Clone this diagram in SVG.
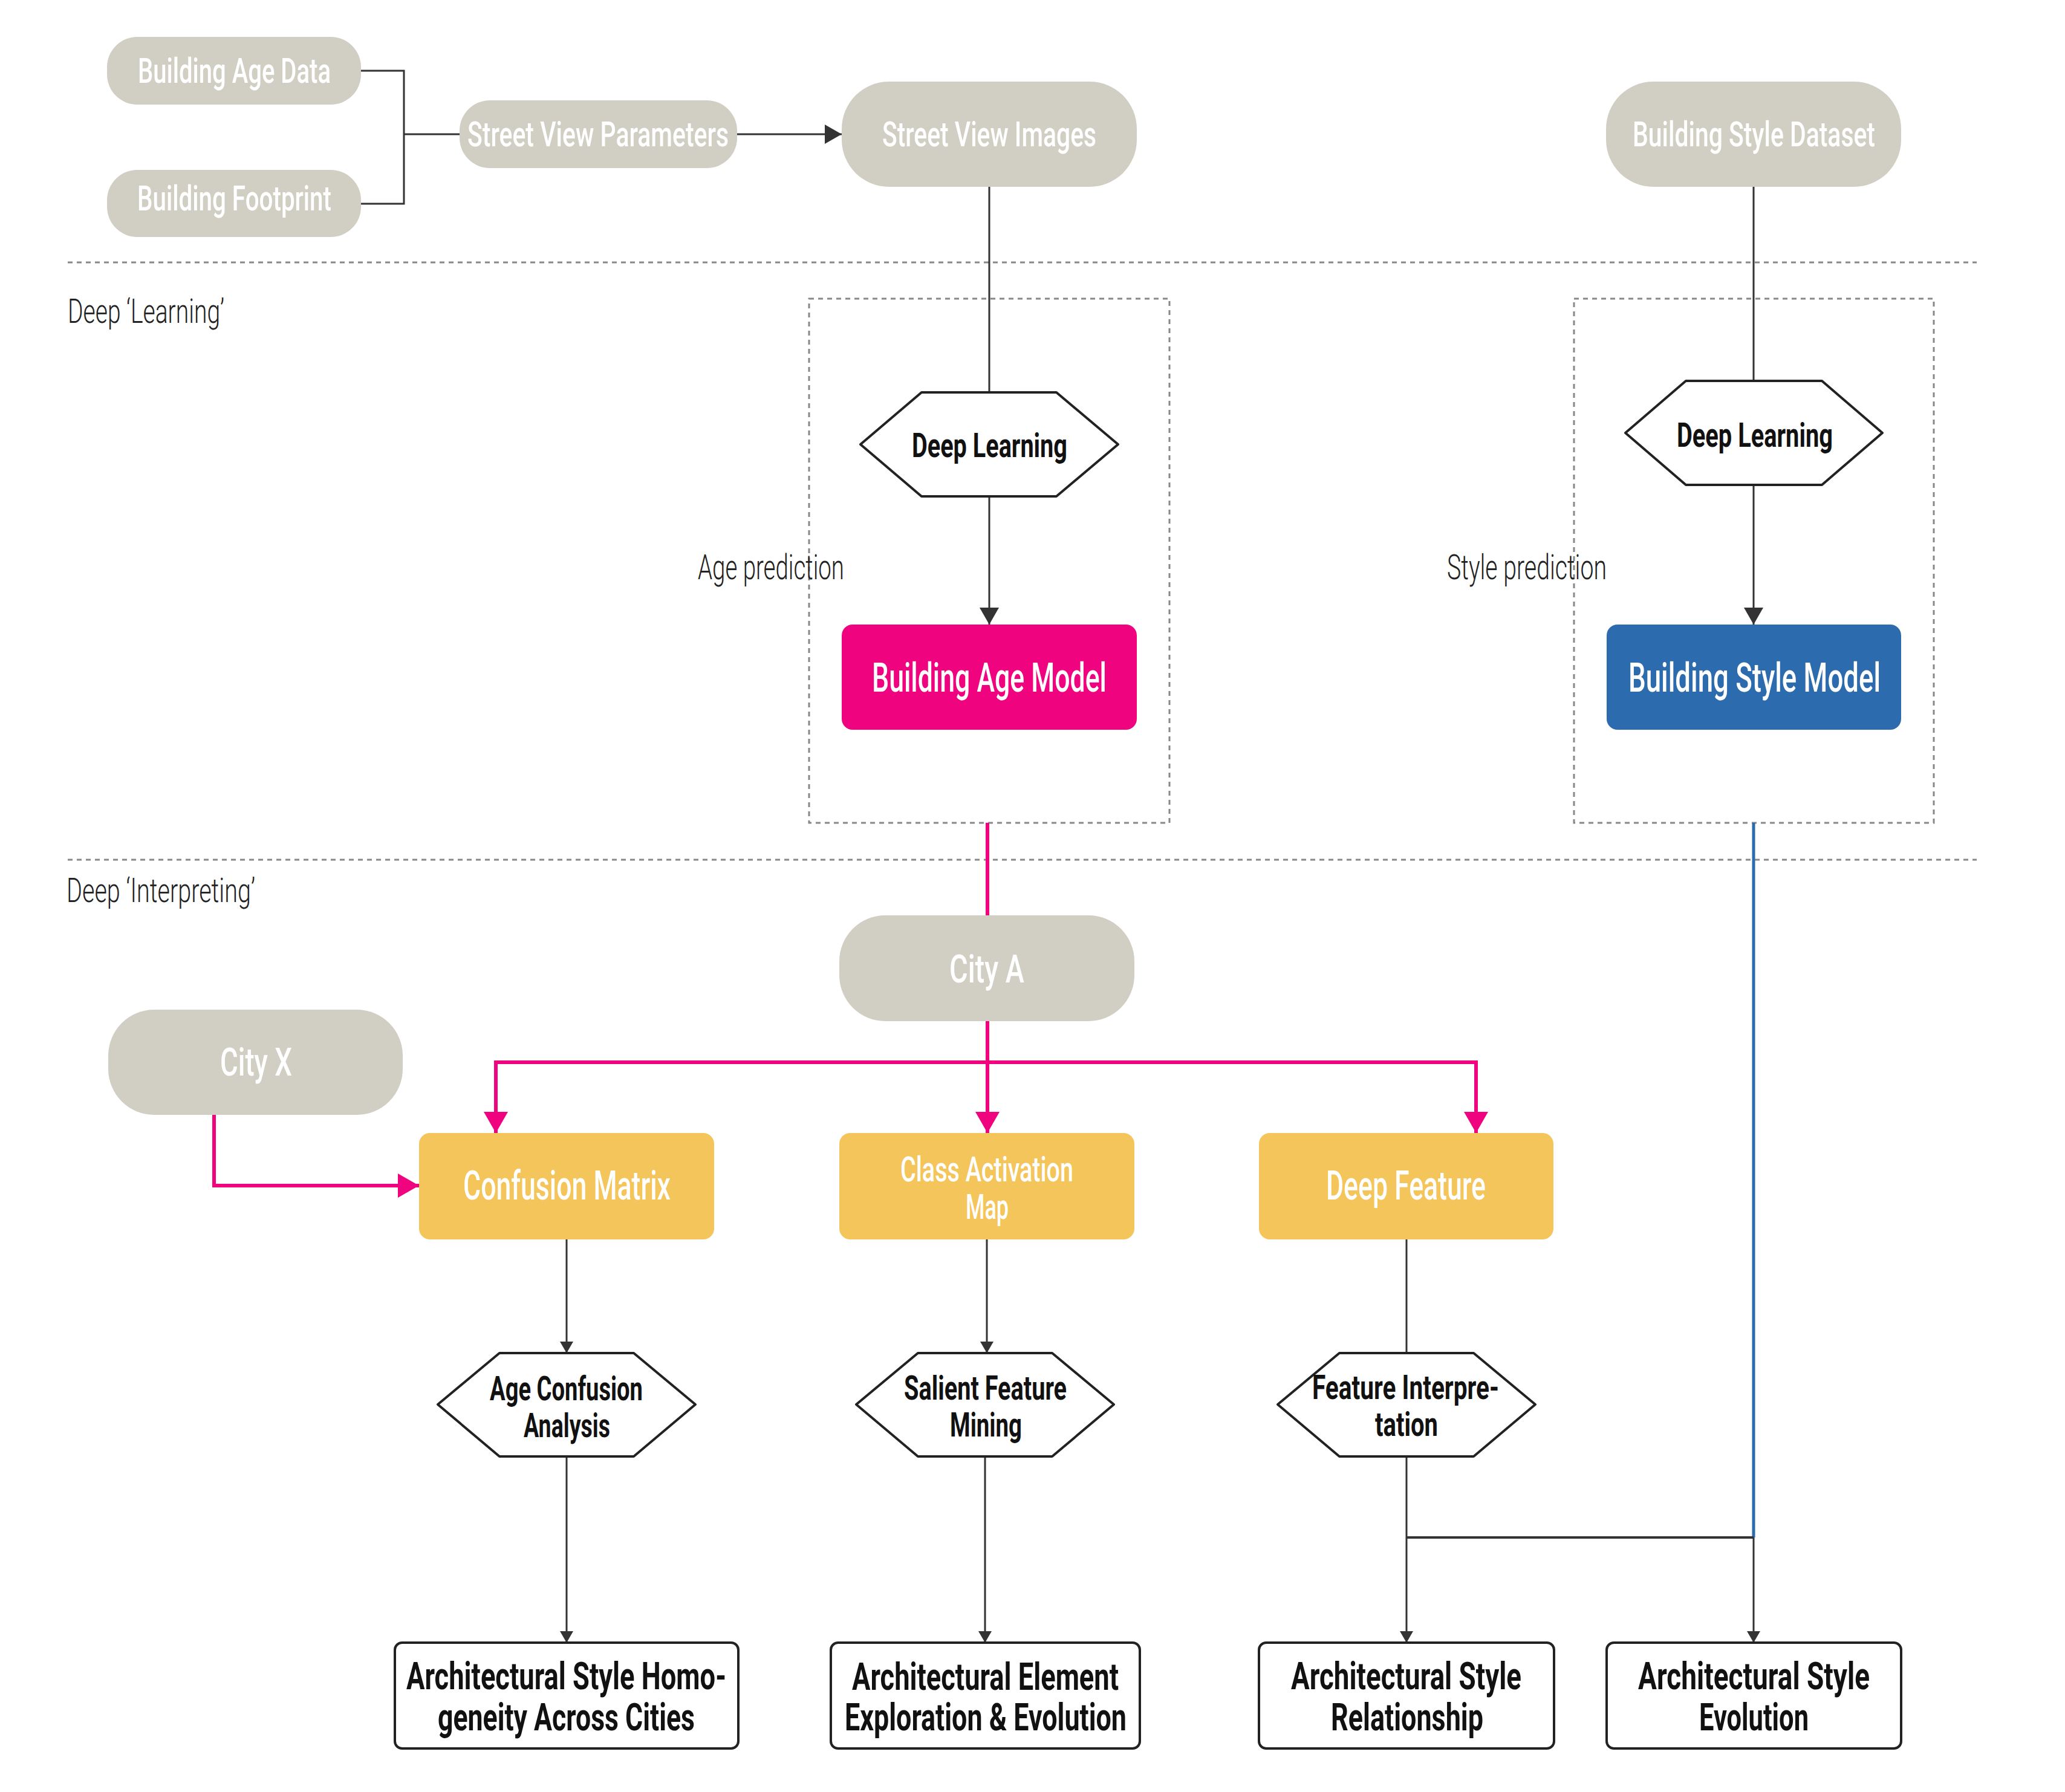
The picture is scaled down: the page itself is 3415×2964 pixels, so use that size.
<svg xmlns="http://www.w3.org/2000/svg" width="3415" height="2964" viewBox="0 0 3415 2964">
<style>
text{font-family:Roboto,"Liberation Sans",sans-serif}
.w{fill:#ffffff;font-weight:500}
.b{fill:#111111;font-weight:700}
.l{fill:#222222;font-weight:300}
.pill{fill:#D1CFC3}
.hex{fill:#ffffff;stroke:#222222;stroke-width:4;stroke-linejoin:round}
.out{fill:#ffffff;stroke:#222222;stroke-width:4}
.sep{fill:none;stroke:#888888;stroke-width:3;stroke-dasharray:8 7}
.c{fill:none;stroke:#333333;stroke-width:3}
.pk{fill:none;stroke:#EF037F;stroke-width:6}
.bl{fill:none;stroke:#2C6BAD;stroke-width:5}
</style>
<defs>
<marker id="aL" markerUnits="userSpaceOnUse" markerWidth="28" markerHeight="32" viewBox="0 0 28 32" refX="28" refY="16" orient="auto"><path d="M0,0 L28,16 L0,32 z" fill="#333333"/></marker>
<marker id="aS" markerUnits="userSpaceOnUse" markerWidth="19" markerHeight="22" viewBox="0 0 19 22" refX="19" refY="11" orient="auto"><path d="M0,0 L19,11 L0,22 z" fill="#333333"/></marker>
<marker id="aP" markerUnits="userSpaceOnUse" markerWidth="35" markerHeight="40" viewBox="0 0 35 40" refX="35" refY="20" orient="auto"><path d="M0,0 L35,20 L0,40 z" fill="#EF037F"/></marker>
</defs>
<rect width="3415" height="2964" fill="#ffffff"/>

<g id="sections">
<line class="sep" x1="112" y1="434" x2="3269" y2="434"/>
<line class="sep" x1="112" y1="1422" x2="3269" y2="1422"/>
<rect class="sep" x="1338" y="494" width="596" height="867"/>
<rect class="sep" x="2603" y="494" width="595" height="867"/>
<text class="l" x="112" y="534" font-size="56" textLength="259" lengthAdjust="spacingAndGlyphs">Deep ‘Learning’</text>
<text class="l" x="110" y="1492" font-size="56" textLength="312" lengthAdjust="spacingAndGlyphs">Deep ‘Interpreting’</text>
<text class="l" x="1154" y="958" font-size="58" textLength="242" lengthAdjust="spacingAndGlyphs">Age prediction</text>
<text class="l" x="2393" y="958" font-size="58" textLength="264" lengthAdjust="spacingAndGlyphs">Style prediction</text>
</g>

<g id="connectors">
<path class="c" d="M597,117 H668 V337 H597"/>
<path class="c" d="M668,222 H760"/>
<path class="c" d="M1219,222 H1392" marker-end="url(#aL)"/>
<path class="c" d="M1636,309 V649"/>
<path class="c" d="M1636,821 V1033" marker-end="url(#aL)"/>
<path class="c" d="M2900,309 V630"/>
<path class="c" d="M2900,802 V1033" marker-end="url(#aL)"/>
<path class="pk" d="M1633,1361 V1514"/>
<path class="pk" d="M1633,1689 V1874" marker-end="url(#aP)"/>
<path class="pk" d="M1633,1757 H820 V1874" marker-end="url(#aP)"/>
<path class="pk" d="M1633,1757 H2441 V1874" marker-end="url(#aP)"/>
<path class="pk" d="M354,1844 V1961 H693" marker-end="url(#aP)"/>
<path class="bl" d="M2900,1361 V2543"/>
<path class="c" d="M937,2050 V2238" marker-end="url(#aS)"/>
<path class="c" d="M1632,2050 V2238" marker-end="url(#aS)"/>
<path class="c" d="M2326,2050 V2238"/>
<path class="c" d="M937,2409 V2717" marker-end="url(#aS)"/>
<path class="c" d="M1629,2409 V2717" marker-end="url(#aS)"/>
<path class="c" d="M2326,2409 V2717" marker-end="url(#aS)"/>
<path class="c" style="stroke-width:4" d="M2326,2543 H2900"/>
<path class="c" d="M2900,2543 V2717" marker-end="url(#aS)"/>
</g>

<g id="building-age-data">
<rect class="pill" x="177" y="61" width="420" height="112" rx="50" ry="50"/>
<text class="w" x="228" y="137" font-size="58" textLength="319" lengthAdjust="spacingAndGlyphs">Building Age Data</text>
</g>
<g id="building-footprint">
<rect class="pill" x="177" y="281" width="420" height="111" rx="50" ry="50"/>
<text class="w" x="227" y="348" font-size="58" textLength="321" lengthAdjust="spacingAndGlyphs">Building Footprint</text>
</g>
<g id="street-view-parameters">
<rect class="pill" x="760" y="166" width="459" height="112" rx="50" ry="50"/>
<text class="w" x="773" y="242" font-size="57" textLength="432" lengthAdjust="spacingAndGlyphs">Street View Parameters</text>
</g>
<g id="street-view-images">
<rect class="pill" x="1392" y="135" width="488" height="174" rx="78" ry="78"/>
<text class="w" x="1459" y="242" font-size="57" textLength="354" lengthAdjust="spacingAndGlyphs">Street View Images</text>
</g>
<g id="building-style-dataset">
<rect class="pill" x="2656" y="135" width="488" height="174" rx="78" ry="78"/>
<text class="w" x="2700" y="242" font-size="57" textLength="401" lengthAdjust="spacingAndGlyphs">Building Style Dataset</text>
</g>

<g id="deep-learning-age">
<polygon class="hex" points="1423,735 1524,649 1747,649 1849,735 1747,821 1524,821"/>
<text class="b" x="1508" y="756" font-size="56" textLength="257" lengthAdjust="spacingAndGlyphs">Deep Learning</text>
</g>
<g id="deep-learning-style">
<polygon class="hex" points="2688,716 2788,630 3013,630 3113,716 3013,802 2788,802"/>
<text class="b" x="2773" y="739" font-size="56" textLength="258" lengthAdjust="spacingAndGlyphs">Deep Learning</text>
</g>
<g id="building-age-model">
<rect x="1392" y="1033" width="488" height="174" rx="18" fill="#EF037F"/>
<text class="w" x="1442" y="1144" font-size="66" textLength="388" lengthAdjust="spacingAndGlyphs">Building Age Model</text>
</g>
<g id="building-style-model">
<rect x="2657" y="1033" width="487" height="174" rx="18" fill="#2C6BAD"/>
<text class="w" x="2693" y="1144" font-size="66" textLength="417" lengthAdjust="spacingAndGlyphs">Building Style Model</text>
</g>

<g id="city-a">
<rect class="pill" x="1388" y="1514" width="488" height="175" rx="76" ry="76"/>
<text class="w" x="1570" y="1625" font-size="65" textLength="124" lengthAdjust="spacingAndGlyphs">City A</text>
</g>
<g id="city-x">
<rect class="pill" x="179" y="1670" width="487" height="174" rx="76" ry="76"/>
<text class="w" x="364" y="1779" font-size="65" textLength="119" lengthAdjust="spacingAndGlyphs">City X</text>
</g>
<g id="confusion-matrix">
<rect x="693" y="1874" width="488" height="176" rx="18" fill="#F3C55A"/>
<text class="w" x="766" y="1984" font-size="66" textLength="343" lengthAdjust="spacingAndGlyphs">Confusion Matrix</text>
</g>
<g id="class-activation-map">
<rect x="1388" y="1874" width="488" height="176" rx="18" fill="#F3C55A"/>
<text class="w" x="1489" y="1954" font-size="57" textLength="286" lengthAdjust="spacingAndGlyphs">Class Activation</text>
<text class="w" x="1597" y="2016" font-size="57" textLength="71" lengthAdjust="spacingAndGlyphs">Map</text>
</g>
<g id="deep-feature">
<rect x="2082" y="1874" width="487" height="176" rx="18" fill="#F3C55A"/>
<text class="w" x="2193" y="1984" font-size="66" textLength="264" lengthAdjust="spacingAndGlyphs">Deep Feature</text>
</g>

<g id="age-confusion-analysis">
<polygon class="hex" points="724,2323 826,2238 1048,2238 1150,2323 1048,2409 826,2409"/>
<text class="b" x="810" y="2316" font-size="55" textLength="253" lengthAdjust="spacingAndGlyphs">Age Confusion</text>
<text class="b" x="866" y="2377" font-size="55" textLength="143" lengthAdjust="spacingAndGlyphs">Analysis</text>
</g>
<g id="salient-feature-mining">
<polygon class="hex" points="1416,2323 1518,2238 1740,2238 1842,2323 1740,2409 1518,2409"/>
<text class="b" x="1495" y="2315" font-size="55" textLength="269" lengthAdjust="spacingAndGlyphs">Salient Feature</text>
<text class="b" x="1571" y="2376" font-size="55" textLength="119" lengthAdjust="spacingAndGlyphs">Mining</text>
</g>
<g id="feature-interpretation">
<polygon class="hex" points="2113,2323 2215,2238 2437,2238 2539,2323 2437,2409 2215,2409"/>
<text class="b" x="2170" y="2314" font-size="55" textLength="309" lengthAdjust="spacingAndGlyphs">Feature Interpre-</text>
<text class="b" x="2274" y="2375" font-size="55" textLength="104" lengthAdjust="spacingAndGlyphs">tation</text>
</g>

<g id="style-homogeneity">
<rect class="out" x="653" y="2717" width="568" height="175" rx="12"/>
<text class="b" x="672" y="2794" font-size="63" textLength="529" lengthAdjust="spacingAndGlyphs">Architectural Style Homo-</text>
<text class="b" x="724" y="2862" font-size="63" textLength="425" lengthAdjust="spacingAndGlyphs">geneity Across Cities</text>
</g>
<g id="element-exploration">
<rect class="out" x="1374" y="2717" width="511" height="175" rx="12"/>
<text class="b" x="1409" y="2795" font-size="63" textLength="441" lengthAdjust="spacingAndGlyphs">Architectural Element</text>
<text class="b" x="1397" y="2862" font-size="63" textLength="466" lengthAdjust="spacingAndGlyphs">Exploration &amp; Evolution</text>
</g>
<g id="style-relationship">
<rect class="out" x="2082" y="2717" width="488" height="175" rx="12"/>
<text class="b" x="2135" y="2794" font-size="63" textLength="381" lengthAdjust="spacingAndGlyphs">Architectural Style</text>
<text class="b" x="2201" y="2862" font-size="63" textLength="252" lengthAdjust="spacingAndGlyphs">Relationship</text>
</g>
<g id="style-evolution">
<rect class="out" x="2657" y="2717" width="487" height="175" rx="12"/>
<text class="b" x="2709" y="2794" font-size="63" textLength="383" lengthAdjust="spacingAndGlyphs">Architectural Style</text>
<text class="b" x="2810" y="2862" font-size="63" textLength="181" lengthAdjust="spacingAndGlyphs">Evolution</text>
</g>
</svg>
